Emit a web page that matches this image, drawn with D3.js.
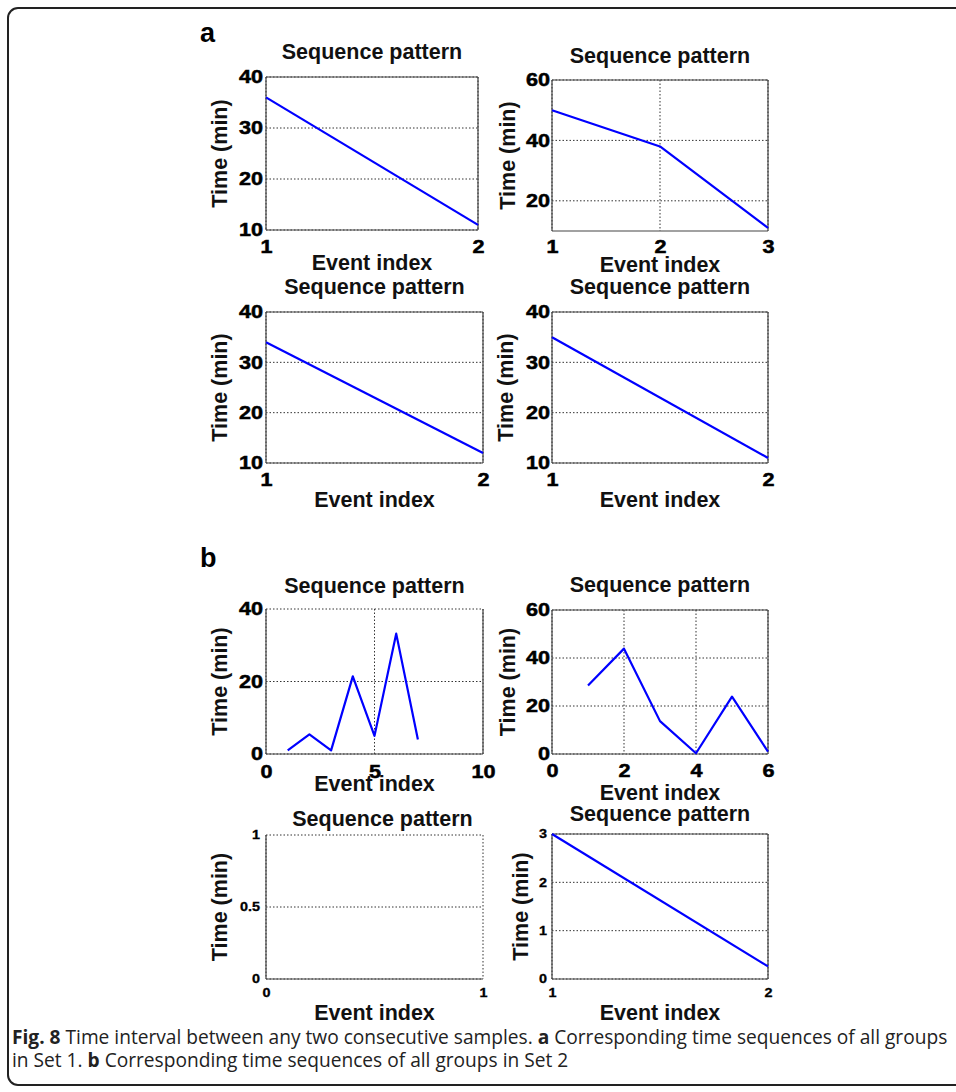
<!DOCTYPE html>
<html>
<head>
<meta charset="utf-8">
<script src="https://cdn.jsdelivr.net/npm/d3@7"></script>
<style>
  html, body { margin: 0; padding: 0; background: #fff; }
  svg { display: block; }
</style>
</head>
<body>
<div id="fig"></div>
<script>
document.addEventListener("DOMContentLoaded", function() {
  var width = 956;
  var height = 1092;

  // Values (event index starts at 1)
  var seriesA1 = [36, 11];
  var seriesA2 = [50, 38, 11];
  var seriesA3 = [34, 12];
  var seriesA4 = [35, 11];
  var seriesB1 = [1, 5.4, 1, 21.4, 5, 33.2, 4];
  var seriesB2 = [28.5, 43.9, 13.7, 0.3, 23.9, 1];
  var seriesB3 = [];
  var seriesB4 = [3, 0.26];

  var xDomains = [[1, 2], [1, 3], [1, 2], [1, 2], [0, 10], [0, 6], [0, 1], [1, 2]];
  var yDomains = [[10, 40], [10, 60], [10, 40], [10, 40], [0, 40], [0, 60], [0, 1], [0, 3]];
  var xTicks = [[1, 2], [1, 2, 3], [1, 2], [1, 2], [0, 5, 10], [0, 2, 4, 6], [0, 1], [1, 2]];
  var yTicks = [[10, 20, 30, 40], [20, 40, 60], [10, 20, 30, 40], [10, 20, 30, 40],
                [0, 20, 40], [0, 20, 40, 60], [0, 0.5, 1], [0, 1, 2, 3]];
  var series = [seriesA1, seriesA2, seriesA3, seriesA4, seriesB1, seriesB2, seriesB3, seriesB4];

  var titleText = "Sequence pattern";
  var xLabelText = "Event index";
  var yLabelText = "Time (min)";

  // Panel placement on the page
  var layout = [
    {x0: 266, x1: 478, y0: 77,  y1: 230, title: -18, xlab: 40, ylab: -47, font: 18, gap: 3, xt: 23},
    {x0: 552, x1: 768, y0: 80,  y1: 231, title: -17, xlab: 41, ylab: -45, font: 18, gap: 2, xt: 22},
    {x0: 266, x1: 483, y0: 312, y1: 463, title: -18, xlab: 44, ylab: -47, font: 18, gap: 3, xt: 23},
    {x0: 552, x1: 768, y0: 312, y1: 463, title: -18, xlab: 44, ylab: -47, font: 18, gap: 2, xt: 23},
    {x0: 266, x1: 483, y0: 609, y1: 754, title: -16, xlab: 37, ylab: -47, font: 18, gap: 3, xt: 24, dotted: ["top"]},
    {x0: 552, x1: 768, y0: 610, y1: 754, title: -18, xlab: 46, ylab: -45, font: 18, gap: 2, xt: 23},
    {x0: 266, x1: 483, y0: 835, y1: 979, title: -9,  xlab: 41, ylab: -47, font: 12, gap: 6, xt: 18, dotted: ["top", "right"]},
    {x0: 552, x1: 768, y0: 834, y1: 979, title: -13, xlab: 41, ylab: -32, font: 12, gap: 5, xt: 18}
  ];

  var boldSans = "'Liberation Sans', Arial, Helvetica, sans-serif";
  var tickStretch = 1.2;

  var svg = d3.select("#fig")
      .append("svg")
      .attr("width", width)
      .attr("height", height);

  svg.append("rect")
    .attr("width", width)
    .attr("height", height)
    .attr("fill", "#fff");

  // Outer rounded frame (right side runs off the page)
  svg.append("rect")
    .attr("x", 8)
    .attr("y", 8)
    .attr("width", 990)
    .attr("height", 1077)
    .attr("rx", 10)
    .attr("fill", "none")
    .attr("stroke", "#222")
    .attr("stroke-width", 2);

  svg.append("text")
    .attr("x", 200).attr("y", 42)
    .attr("font-family", boldSans).attr("font-weight", "bold")
    .attr("font-size", 27)
    .text("a");

  svg.append("text")
    .attr("x", 200).attr("y", 567)
    .attr("font-family", boldSans).attr("font-weight", "bold")
    .attr("font-size", 27)
    .text("b");

  function drawPanel(i) {
    var L = layout[i];
    var x = d3.scaleLinear().domain(xDomains[i]).range([L.x0, L.x1]);
    var y = d3.scaleLinear().domain(yDomains[i]).range([L.y1, L.y0]);
    var g = svg.append("g");

    // grid
    g.selectAll(".gy").data(yTicks[i]).enter().append("line")
      .attr("x1", L.x0).attr("x2", L.x1)
      .attr("y1", d => y(d)).attr("y2", d => y(d))
      .attr("stroke", "#333").attr("stroke-width", 1)
      .attr("stroke-dasharray", "1.5,2");
    g.selectAll(".gx").data(xTicks[i]).enter().append("line")
      .attr("y1", L.y0).attr("y2", L.y1)
      .attr("x1", d => x(d)).attr("x2", d => x(d))
      .attr("stroke", "#333").attr("stroke-width", 1)
      .attr("stroke-dasharray", "1.5,2");

    // box
    var dotted = L.dotted || [];
    var sides = [
      {k: "top",    a: [L.x0, L.y0, L.x1, L.y0]},
      {k: "right",  a: [L.x1, L.y0, L.x1, L.y1]},
      {k: "bottom", a: [L.x0, L.y1, L.x1, L.y1]},
      {k: "left",   a: [L.x0, L.y0, L.x0, L.y1]}
    ].filter(s => dotted.indexOf(s.k) < 0);
    g.selectAll(".side").data(sides).enter().append("line")
      .attr("x1", d => d.a[0]).attr("y1", d => d.a[1])
      .attr("x2", d => d.a[2]).attr("y2", d => d.a[3])
      .attr("stroke", "#444").attr("stroke-width", 1.2);

    // axes
    var ax = g.append("g")
      .attr("transform", "translate(0," + L.y1 + ")")
      .call(d3.axisBottom(x).tickValues(xTicks[i]).tickSize(0).tickFormat(d3.format("~g")));
    ax.select(".domain").remove();
    ax.selectAll("text")
      .attr("y", L.xt).attr("dy", 0)
      .attr("transform", "scale(" + tickStretch + ",1)")
      .attr("font-family", boldSans).attr("font-weight", "bold")
      .attr("font-size", L.font).attr("fill", "#000")
      .attr("stroke", "#000").attr("stroke-width", L.font > 14 ? 0.5 : 0.3);

    var ay = g.append("g")
      .attr("transform", "translate(" + L.x0 + ",0)")
      .call(d3.axisLeft(y).tickValues(yTicks[i]).tickSize(0).tickPadding(L.gap).tickFormat(d3.format("~g")));
    ay.select(".domain").remove();
    ay.selectAll("text")
      .attr("transform", "translate(" + (-L.gap) + ",0) scale(" + tickStretch + ",1) translate(" + L.gap + ",0)")
      .attr("font-family", boldSans).attr("font-weight", "bold")
      .attr("font-size", L.font).attr("fill", "#000")
      .attr("stroke", "#000").attr("stroke-width", L.font > 14 ? 0.5 : 0.3);

    // data line
    if (series[i].length > 0) {
      var line = d3.line()
        .x((d, j) => x(j + 1))
        .y(d => y(d));
      g.append("path")
        .attr("fill", "none")
        .attr("stroke", "#0000ff")
        .attr("stroke-width", 2.2)
        .attr("stroke-linejoin", "round")
        .attr("d", line(series[i]));
    }

    var cx = (L.x0 + L.x1) / 2;
    var cy = (L.y0 + L.y1) / 2;

    g.append("text")
      .attr("x", cx + (i === 6 ? 8 : 0)).attr("y", L.y0 + L.title)
      .attr("text-anchor", "middle")
      .attr("font-family", boldSans).attr("font-weight", "bold")
      .attr("font-size", 21.5).attr("fill", "#111")
      .text(titleText);

    g.append("text")
      .attr("x", cx).attr("y", L.y1 + L.xlab)
      .attr("text-anchor", "middle")
      .attr("font-family", boldSans).attr("font-weight", "bold")
      .attr("font-size", 21.5).attr("fill", "#111")
      .text(xLabelText);

    g.append("text")
      .attr("transform", "translate(" + (L.x0 + L.ylab + 7.5) + "," + cy + ") rotate(-90)")
      .attr("text-anchor", "middle")
      .attr("font-family", boldSans).attr("font-weight", "bold")
      .attr("font-size", 21.5).attr("fill", "#111")
      .text(yLabelText);
  }

  for (var i = 0; i < layout.length; i++) drawPanel(i);

  // Caption
  var capFont = "'Liberation Sans Narrow', 'Open Sans', 'Liberation Sans', sans-serif";
  var cap = svg.append("g").attr("fill", "#222");
  var line1 = cap.append("text")
    .attr("x", 0).attr("y", 1044)
    .attr("font-family", capFont).attr("font-size", 19.5);
  line1.append("tspan").attr("font-weight", "bold").text("Fig. 8");
  line1.append("tspan").text(" Time interval between any two consecutive samples. ");
  line1.append("tspan").attr("font-weight", "bold").text("a");
  line1.append("tspan").text(" Corresponding time sequences of all groups");

  var line2 = cap.append("text")
    .attr("x", 0).attr("y", 1067)
    .attr("font-family", capFont).attr("font-size", 19.5);
  line2.append("tspan").text("in Set 1. ");
  line2.append("tspan").attr("font-weight", "bold").text("b");
  line2.append("tspan").text(" Corresponding time sequences of all groups in Set 2");

  var natural = line1.node().getComputedTextLength();
  var sx = 936 / natural;
  cap.attr("transform", "translate(12,0) scale(" + sx + ",1)");
});
</script>
</body>
</html>
